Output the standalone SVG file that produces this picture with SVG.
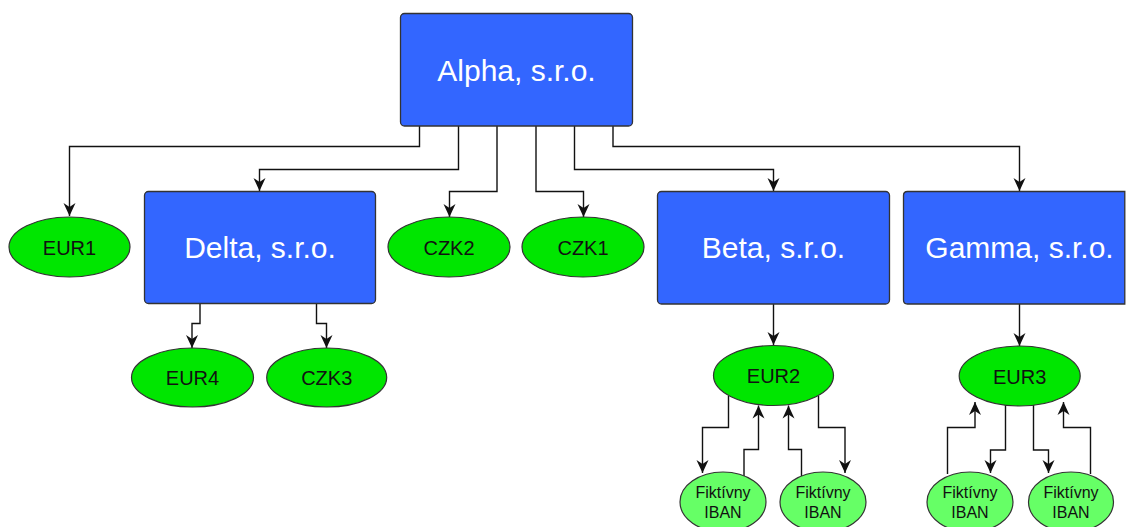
<svg xmlns="http://www.w3.org/2000/svg" width="1126" height="527" viewBox="0 0 1126 527">
<style>
.box{fill:#3366ff;stroke:#333;stroke-width:1.3}
.btxt{font-family:"Liberation Sans",Arial,sans-serif;font-size:30px;fill:#fff;text-anchor:middle}
.acc{fill:#00e600;stroke:#333;stroke-width:1.2}
.fik{fill:#66ff66;stroke:#333;stroke-width:1.2}
.gtxt{font-family:"Liberation Sans",Arial,sans-serif;font-size:20px;fill:#111;text-anchor:middle}
.ftxt{font-family:"Liberation Sans",Arial,sans-serif;font-size:16px;fill:#111;text-anchor:middle}
.edge{fill:none;stroke:#111;stroke-width:1.4;marker-end:url(#arr)}
</style>
<defs>
<marker id="arr" markerUnits="userSpaceOnUse" viewBox="-14 -7 15 14" refX="0" refY="0" markerWidth="15" markerHeight="14" orient="auto" overflow="visible">
<path d="M0,0 L-13,-6 L-9,0 L-13,6 Z" fill="#111"/>
</marker>
</defs>
<rect width="1126" height="527" fill="#fff"/>
<g id="connectors">
<path class="edge" d="M419.5,126 V146.5 H69.5 V216"/>
<path class="edge" d="M458.5,126 V169.5 H259.5 V191"/>
<path class="edge" d="M497,126 V191.5 H449.5 V217"/>
<path class="edge" d="M536,126 V191.5 H583.5 V217"/>
<path class="edge" d="M574.5,126 V169.5 H773.5 V191"/>
<path class="edge" d="M613,126 V146.5 H1019.5 V191"/>
<path class="edge" d="M200,303 V323.5 H192 V348"/>
<path class="edge" d="M316.5,303 V323.5 H326.5 V348"/>
<path class="edge" d="M773.5,304 V345"/>
<path class="edge" d="M1019.5,304 V346"/>
<path class="edge" d="M728.5,396 V427.5 H702.5 V473"/>
<path class="edge" d="M744,476 V449.5 H758.5 V405.5"/>
<path class="edge" d="M801.5,476 V449.5 H788.5 V405.5"/>
<path class="edge" d="M818.5,396 V427.5 H845 V473"/>
<path class="edge" d="M947.5,474 V427.5 H975 V402"/>
<path class="edge" d="M1005.5,405 V450 H990.5 V473"/>
<path class="edge" d="M1033.5,405 V450 H1048.5 V473"/>
<path class="edge" d="M1090.5,474 V427.5 H1063.5 V402"/>
</g>
<g id="alpha"><rect class="box" x="400.5" y="13.5" width="232" height="112.5" rx="4"/><text class="btxt" x="516.5" y="80.5">Alpha, s.r.o.</text></g>
<g id="delta"><rect class="box" x="144.5" y="191.5" width="231" height="112" rx="4"/><text class="btxt" x="260" y="257.5">Delta, s.r.o.</text></g>
<g id="beta"><rect class="box" x="657.5" y="191.5" width="232" height="112.5" rx="4"/><text class="btxt" x="773.5" y="258">Beta, s.r.o.</text></g>
<g id="gamma"><path class="box" d="M907.5,191.5 H1124.8 V304 H907.5 Q903.5,304 903.5,300 V195.5 Q903.5,191.5 907.5,191.5 Z"/><text class="btxt" x="1019.5" y="258">Gamma, s.r.o.</text></g>
<g id="eur1"><ellipse class="acc" cx="69.5" cy="247" rx="60.5" ry="30"/><text class="gtxt" x="69.5" y="254.5">EUR1</text></g>
<g id="czk2"><ellipse class="acc" cx="449" cy="247" rx="61" ry="30"/><text class="gtxt" x="449" y="254.5">CZK2</text></g>
<g id="czk1"><ellipse class="acc" cx="583" cy="247" rx="61" ry="30"/><text class="gtxt" x="583" y="254.5">CZK1</text></g>
<g id="eur4"><ellipse class="acc" cx="192.5" cy="377.5" rx="61" ry="29.5"/><text class="gtxt" x="192.5" y="385">EUR4</text></g>
<g id="czk3"><ellipse class="acc" cx="326.7" cy="377.5" rx="60" ry="29.5"/><text class="gtxt" x="326.7" y="385">CZK3</text></g>
<g id="eur2"><ellipse class="acc" cx="773.5" cy="375.5" rx="60" ry="30"/><text class="gtxt" x="773.5" y="383">EUR2</text></g>
<g id="eur3"><ellipse class="acc" cx="1019.7" cy="376" rx="60.5" ry="30"/><text class="gtxt" x="1019.7" y="383.5">EUR3</text></g>
<g id="fik1"><ellipse class="fik" cx="723" cy="502" rx="43" ry="30"/><text class="ftxt" x="723" y="498">Fiktívny</text><text class="ftxt" x="723" y="518">IBAN</text></g>
<g id="fik2"><ellipse class="fik" cx="823" cy="502" rx="43" ry="30"/><text class="ftxt" x="823" y="498">Fiktívny</text><text class="ftxt" x="823" y="518">IBAN</text></g>
<g id="fik3"><ellipse class="fik" cx="970" cy="502" rx="43" ry="30"/><text class="ftxt" x="970" y="498">Fiktívny</text><text class="ftxt" x="970" y="518">IBAN</text></g>
<g id="fik4"><ellipse class="fik" cx="1071" cy="502" rx="42.5" ry="30"/><text class="ftxt" x="1071" y="498">Fiktívny</text><text class="ftxt" x="1071" y="518">IBAN</text></g>
</svg>
